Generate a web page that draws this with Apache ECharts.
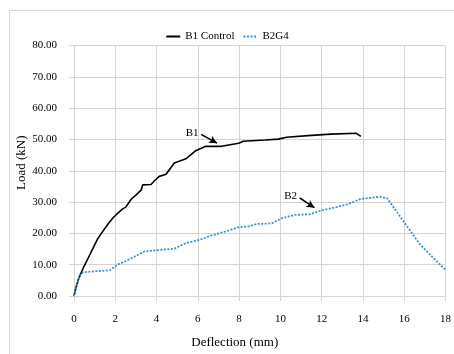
<!DOCTYPE html>
<html>
<head>
<meta charset="utf-8">
<script src="https://cdn.jsdelivr.net/npm/echarts@6/dist/echarts.min.js"></script>
<style>
html,body{margin:0;padding:0;background:#fff;}
#main{width:454px;height:354px;}
</style>
</head>
<body>
<div id="main"></div>
<script>
// deflection (mm), load (kN)
var b1Data = [[0,0],[0.1,2.8],[0.21,5.3],[0.45,9],[0.7,12.3],[0.93,15.4],[1.15,18.3],[1.41,20.8],
	[1.65,23],[1.89,25],[2.1,26.3],[2.37,27.9],[2.5,28.3],[2.77,30.9],[3.0,32.2],[3.25,33.8],
	[3.33,35.5],[3.73,35.6],[3.9,36.8],[4.13,38.2],[4.46,38.9],[4.86,42.5],[5.26,43.4],[5.42,43.8],
	[5.9,46.4],[6.38,47.8],[7.15,47.8],[7.98,48.8],[8.2,49.4],[9.26,49.8],[9.9,50.1],[10.3,50.7],
	[11.5,51.3],[12.45,51.7],[13.66,52.0],[13.74,52.3],[13.9,51.0]];
var b2Data = [[0,0],[0.15,3.5],[0.29,6.9],[0.45,7.6],[1.0,7.9],[1.73,8.2],[2.13,10.1],[2.46,11],
	[2.86,12.3],[3.41,14.2],[3.82,14.5],[4.86,15.1],[5.42,16.9],[6.06,17.9],[6.7,19.4],[7.34,20.6],
	[7.98,22],[8.46,22.2],[8.86,23],[9.58,23.2],[10.05,24.8],[10.7,25.9],[11.42,26.1],[12.05,27.4],
	[12.6,28.2],[13.25,29.3],[13.89,31],[14.85,31.7],[15.17,31.2],[15.4,29.1],[15.97,23.8],
	[16.77,16.4],[17.97,8.5]];
var seriesNames = ['B1 Control', 'B2G4'];
// annotation arrows: [text, start, end]
var b1Arrow = ['B1', [6.16,51.6], [6.93,48.8]];
var b2Arrow = ['B2', [10.93,31.3], [11.65,28.2]];

var serif = '"Liberation Serif", "Times New Roman", serif';
var gridColor = '#d4d4d4';
var blue = '#3a90d6';

function arrowLine(a){
	return {
		silent: true,
		symbol: ['none', 'arrow'],
		symbolSize: [6, 8],
		lineStyle: {color: '#000', type: 'solid', width: 1.5},
		label: {show: true, position: 'start', formatter: a[0], color: '#000',
			fontFamily: serif, fontSize: 11, distance: 3},
		data: [[{coord: a[1]}, {coord: a[2]}]]
	};
}

var myChart = echarts.init(document.getElementById('main'));
var option = {
	backgroundColor: '#fff',
	animation: false,
	graphic: [{
		type: 'rect', left: 7, top: 8,
		shape: {width: 470, height: 370},
		style: {fill: 'none', stroke: '#d9d9d9', lineWidth: 1}
	}],
	legend: {
		top: 26, left: 'center',
		itemWidth: 14, itemHeight: 8, itemGap: 8,
		itemStyle: {opacity: 0},
		textStyle: {fontFamily: serif, fontSize: 11, color: '#000'},
		data: seriesNames
	},
	grid: {left: 74, right: 5, top: 45.5, bottom: 55.5},
	xAxis: {
		type: 'value', min: 0, max: 18, interval: 2,
		name: 'Deflection (mm)', nameLocation: 'middle', nameGap: 40, nameMoveOverlap: false,
		nameTextStyle: {fontFamily: serif, fontSize: 13, color: '#000', padding: [0, 50, 0, 0]},
		axisLine: {show: true, lineStyle: {color: gridColor}},
		axisTick: {show: true, length: 5, lineStyle: {color: gridColor}},
		axisLabel: {fontFamily: serif, fontSize: 11, color: '#000', margin: 18},
		splitLine: {show: true, lineStyle: {color: gridColor}}
	},
	yAxis: {
		type: 'value', min: 0, max: 80, interval: 10,
		name: 'Load (kN)', nameLocation: 'middle', nameGap: 46, nameMoveOverlap: false,
		nameTextStyle: {fontFamily: serif, fontSize: 13, color: '#000', padding: [0, 0, 0, 16]},
		axisLine: {show: true, lineStyle: {color: gridColor}},
		axisTick: {show: true, length: 5, lineStyle: {color: gridColor}},
		axisLabel: {fontFamily: serif, fontSize: 11, color: '#000', margin: 17,
			formatter: function(v){ return v.toFixed(2); }},
		splitLine: {show: true, lineStyle: {color: gridColor}}
	},
	series: [{
		name: seriesNames[0], type: 'line', data: b1Data,
		showSymbol: false, symbol: 'none',
		lineStyle: {color: '#000', width: 1.6},
		itemStyle: {color: '#000'},
		markLine: arrowLine(b1Arrow)
	}, {
		name: seriesNames[1], type: 'line', data: b2Data,
		showSymbol: false, symbol: 'none',
		lineStyle: {color: blue, width: 1.8, type: [2, 1.5]},
		itemStyle: {color: blue},
		markLine: arrowLine(b2Arrow)
	}]
};
myChart.setOption(option);
</script>
</body>
</html>
